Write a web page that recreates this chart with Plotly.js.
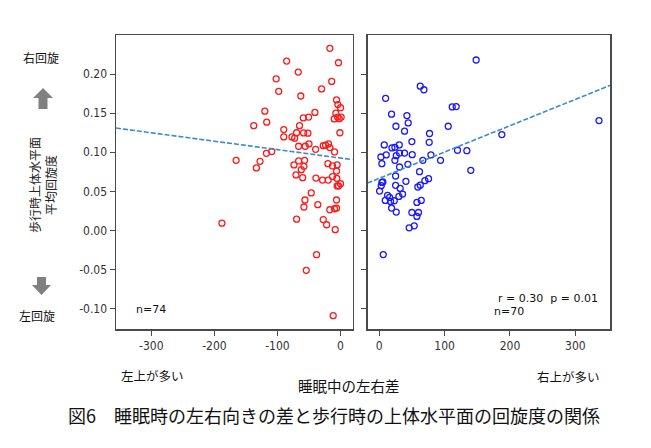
<!DOCTYPE html>
<html>
<head>
<meta charset="utf-8">
<script src="https://cdn.plot.ly/plotly-3.0.1.min.js"></script>
<style>html,body{margin:0;padding:0;background:#fff;}#chart{width:651px;height:448px;}</style>
</head>
<body>
<div id="chart"></div>
<script>
// Left panel (left side more, negative differences)
const leftX = [-16.9,-3.2,-85.4,-67,-102,-14,-98,-30,-63,-6.3,-4.2,0,-120,-40.6,-7.4,-59,-50.6,-10,-4.7,1,-2,-137.6,-117,-65,-90,-1,-69.6,-58.5,-51.7,-90,-77,-72.7,-109,-117.5,-66.4,-55.9,-50,-39.5,-27.4,-23.7,-19,-16.9,-9.5,-165.5,-127.6,-133.4,-73.8,-66.4,-57,-58,-62.2,-70.6,-60,-39,-20,-12.7,-5.3,-6.3,-12.7,-28.5,-19.5,-5.8,0,-5.3,-3.2,-46.4,-56.4,-58,-36,-6.3,-17,-9.5,-6.3,-69.6,-27.4,-22,-8.4,-188,-38,-54.3,-11.6];
const leftY = [0.233,0.2145,0.2167,0.2026,0.194,0.1906,0.178,0.181,0.172,0.167,0.161,0.157,0.1526,0.151,0.150,0.144,0.145,0.1427,0.145,0.145,0.143,0.134,0.1385,0.134,0.129,0.125,0.125,0.1248,0.1244,0.1197,0.1197,0.118,0.101,0.0987,0.1077,0.1077,0.1107,0.1038,0.1085,0.109,0.1107,0.106,0.1004,0.0897,0.0885,0.080,0.0838,0.0889,0.0897,0.082,0.0778,0.071,0.0675,0.067,0.0855,0.0825,0.0838,0.076,0.069,0.0645,0.0645,0.0667,0.0598,0.057,0.057,0.048,0.039,0.030,0.033,0.039,0.0265,0.0278,0.0286,0.0145,0.014,0.0073,0.001,0.0094,-0.031,-0.051,-0.109];
// Right panel (right side more, positive differences)
const rightX = [148.2,62.7,68.3,9.7,111.6,117.7,18.8,42.3,44.3,25.5,105.5,38.7,76.9,187.5,336.2,7.6,19.4,23.9,30.6,49.9,76.4,2.5,4,10.7,26,31,38.7,23.9,50.4,79,66.7,93.7,119.7,134,31,43.8,140,61.6,25,40.8,4,3,0.5,25,32,35.7,30,12.7,15.8,9.2,17.3,22.9,18.8,26,59,62.7,69.8,75.4,57.6,64.2,49.9,57.6,60,45.8,53.5,6.1,5.5];
const rightY = [0.218,0.1846,0.180,0.169,0.158,0.1585,0.1487,0.147,0.1376,0.1333,0.1333,0.127,0.124,0.1226,0.1406,0.1094,0.1056,0.1064,0.1094,0.1137,0.1128,0.094,0.0855,0.0966,0.0957,0.099,0.099,0.0897,0.097,0.0966,0.0897,0.0897,0.1026,0.102,0.0812,0.0846,0.0769,0.0752,0.0697,0.0628,0.0615,0.0573,0.0504,0.0577,0.0538,0.0466,0.0436,0.045,0.0423,0.0385,0.0372,0.038,0.0286,0.0235,0.0556,0.058,0.0637,0.0662,0.0359,0.0385,0.023,0.018,0.023,0.0034,0.006,-0.0308,0.062];
// Regression lines (end points)
const leftTrendX = [-356, 19];
const leftTrendY = [0.131, 0.0906];
const rightTrendX = [-18, 353];
const rightTrendY = [0.0607, 0.1855];
// Tick labels
const yTickVals = [-0.10,-0.05,0.00,0.05,0.10,0.15,0.20];
const yTickText = ["-0.10","-0.05","0.00","0.05","0.10","0.15","0.20"];
const leftXTickVals = [-300,-200,-100,0];
const leftXTickText = ["-300","-200","-100","0"];
const rightXTickVals = [0,100,200,300];
const rightXTickText = ["0","100","200","300"];

const W = 651, H = 448;
const px = x => x / W, py = y => 1 - y / H;
const tickFont = {family: "DejaVu Sans Condensed, Liberation Sans Narrow, sans-serif", size: 12, color: "#333"};
const jp = "Noto Sans CJK JP, sans-serif";
const frame = "#4a4a4a";

const axisCommon = {
  showgrid: false, zeroline: false, showline: true, mirror: true,
  linecolor: frame, linewidth: 1.5, ticks: "outside", ticklen: 5,
  tickcolor: frame, tickwidth: 1, tickfont: tickFont
};

const traces = [
  {x: leftX, y: leftY, xaxis: "x", yaxis: "y", mode: "markers", type: "scatter",
   marker: {symbol: "circle-open", size: 6, color: "#ff1a1a", line: {width: 1.3, color: "#ff1a1a"}}},
  {x: leftTrendX, y: leftTrendY, xaxis: "x", yaxis: "y", mode: "lines", type: "scatter",
   line: {color: "#3a8ccc", width: 1.6, dash: "5px,2px"}},
  {x: rightX, y: rightY, xaxis: "x2", yaxis: "y2", mode: "markers", type: "scatter",
   marker: {symbol: "circle-open", size: 6, color: "#1a1aff", line: {width: 1.3, color: "#1a1aff"}}},
  {x: rightTrendX, y: rightTrendY, xaxis: "x2", yaxis: "y2", mode: "lines", type: "scatter",
   line: {color: "#3a8ccc", width: 1.6, dash: "5px,2px"}}
];

function note(x, y, text, font, extra) {
  return Object.assign({xref: "paper", yref: "paper", x: px(x), y: py(y), text: text,
    showarrow: false, xanchor: "center", yanchor: "middle", font: font}, extra || {});
}

const yRange = [-0.126, 0.250];
const layout = {
  width: W, height: H, showlegend: false,
  margin: {l: 0, r: 0, t: 0, b: 0},
  paper_bgcolor: "#fff", plot_bgcolor: "#fff",
  xaxis: Object.assign({}, axisCommon, {domain: [px(116), px(352.5)], range: [-356, 19], anchor: "y",
    tickvals: leftXTickVals, ticktext: leftXTickText}),
  yaxis: Object.assign({}, axisCommon, {domain: [py(329), py(35)], range: yRange, anchor: "x",
    tickvals: yTickVals, ticktext: yTickText}),
  xaxis2: Object.assign({}, axisCommon, {domain: [px(367.5), px(610)], range: [-18, 353], anchor: "y2",
    tickvals: rightXTickVals, ticktext: rightXTickText}),
  yaxis2: Object.assign({}, axisCommon, {domain: [py(329), py(35)], range: yRange, anchor: "x2",
    tickvals: yTickVals, showticklabels: false}),
  shapes: [
    {type: "path", xref: "paper", yref: "paper", fillcolor: "#808080", line: {width: 0},
     path: `M${px(43)},${py(88)} L${px(53)},${py(98)} L${px(47.5)},${py(98)} L${px(47.5)},${py(109)} L${px(38.5)},${py(109)} L${px(38.5)},${py(98)} L${px(33)},${py(98)} Z`},
    {type: "path", xref: "paper", yref: "paper", fillcolor: "#808080", line: {width: 0},
     path: `M${px(41.5)},${py(295)} L${px(51)},${py(285)} L${px(46)},${py(285)} L${px(46)},${py(277)} L${px(37)},${py(277)} L${px(37)},${py(285)} L${px(32)},${py(285)} Z`}
  ],
  annotations: [
    note(41, 58, "右回旋", {family: jp, size: 12, color: "#111"}),
    note(37, 315, "左回旋", {family: jp, size: 12, color: "#111"}),
    note(42, 185, "歩行時上体水平面<br>平均回旋度", {family: jp, size: 12, color: "#222"}, {textangle: -90}),
    note(134, 309, "n=74", {family: "DejaVu Sans, sans-serif", size: 11, color: "#111"}, {xanchor: "left"}),
    note(496, 298, "r = 0.30&nbsp;&nbsp;p = 0.01", {family: "DejaVu Sans, sans-serif", size: 11, color: "#111"}, {xanchor: "left"}),
    note(492, 311, "n=70", {family: "DejaVu Sans, sans-serif", size: 11, color: "#111"}, {xanchor: "left"}),
    note(152, 375, "左上が多い", {family: jp, size: 12.5, color: "#111"}),
    note(568, 376, "右上が多い", {family: jp, size: 12.5, color: "#111"}),
    note(349, 385, "睡眠中の左右差", {family: jp, size: 14.5, color: "#111"}),
    note(334, 415, "図6　睡眠時の左右向きの差と歩行時の上体水平面の回旋度の関係", {family: jp, size: 18, color: "#111"})
  ]
};

Plotly.newPlot("chart", traces, layout, {staticPlot: true, displayModeBar: false});
</script>
</body>
</html>
